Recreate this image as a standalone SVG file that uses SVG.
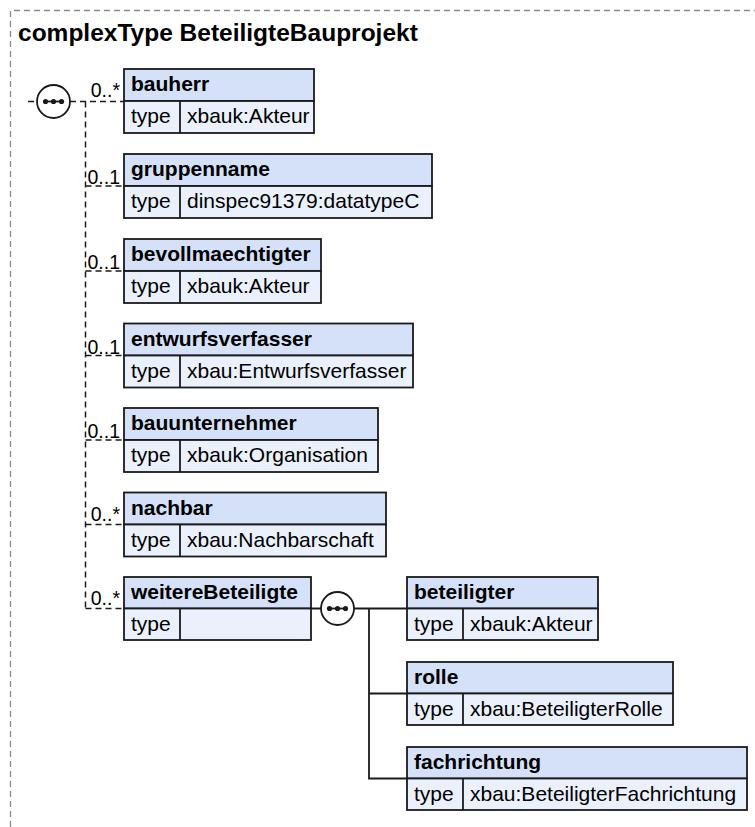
<svg xmlns="http://www.w3.org/2000/svg" width="755" height="827" viewBox="0 0 755 827">
<style>
.hd{fill:#d4e1f8;stroke:#1a1a1a;stroke-width:1.8}
.tr{fill:#eaf1fc;stroke:#1a1a1a;stroke-width:1.8}
.nm{font-family:"Liberation Sans",Arial,sans-serif;font-weight:bold;font-size:21px;fill:#000}
.tx{font-family:"Liberation Sans",Arial,sans-serif;font-size:21px;fill:#000}
.ml{font-family:"Liberation Sans",Arial,sans-serif;font-size:19.5px;fill:#000;text-anchor:end}
.dash{fill:none;stroke:#1a1a1a;stroke-width:1.5;stroke-dasharray:6,4}
.solid{fill:none;stroke:#1a1a1a;stroke-width:1.8}
.seq{fill:#fff;stroke:#1a1a1a;stroke-width:1.8}
</style>
<defs>
<g id="dots"><line x1="-8" y1="0" x2="8" y2="0" stroke="#1a1a1a" stroke-width="1.8"/><circle cx="-8" cy="0" r="2.6" fill="#1a1a1a"/><circle cx="0" cy="0" r="2.6" fill="#1a1a1a"/><circle cx="8" cy="0" r="2.6" fill="#1a1a1a"/></g>
</defs>
<path d="M10.5 827 V10.5 H755" fill="none" stroke="#8a8a8a" stroke-width="1.3" stroke-dasharray="6,4"/>
<text x="18" y="41" font-family="'Liberation Sans',Arial,sans-serif" font-weight="bold" font-size="24.5" fill="#000">complexType BeteiligteBauprojekt</text>
<g id="connectors">
<path class="dash" d="M28 101.5 H37 M70 101.5 H124 M85.5 101.5 V608.5 M85.5 186 H124 M85.5 271 H124 M85.5 355.5 H124 M85.5 440 H124 M85.5 524.5 H124 M85.5 608.5 H124"/>
<path class="solid" d="M311 608.5 H321 M354 608.5 H407 M369 608.5 V778.5 H407 M369 693.5 H407"/>
<text class="ml" x="120" y="97">0..*</text>
<text class="ml" x="120" y="184">0..1</text>
<text class="ml" x="120" y="269">0..1</text>
<text class="ml" x="120" y="353.5">0..1</text>
<text class="ml" x="120" y="438">0..1</text>
<text class="ml" x="120" y="520.5">0..*</text>
<text class="ml" x="120" y="604.5">0..*</text>
</g>
<g id="seq1"><circle class="seq" cx="53.5" cy="101.5" r="16.5"/><use href="#dots" x="53.5" y="101.5"/></g>
<g id="seq2"><circle class="seq" cx="337.5" cy="608.5" r="16.5"/><use href="#dots" x="337.5" y="608.5"/></g>
<g id="bauherr"><rect class="hd" x="124" y="69" width="190" height="32"/><rect class="tr" x="124" y="101" width="190" height="32"/><line class="solid" x1="180" y1="101" x2="180" y2="133"/><text class="nm" x="131" y="91">bauherr</text><text class="tx" x="131" y="123">type</text><text class="tx" x="187" y="123">xbauk:Akteur</text></g>
<g id="gruppenname"><rect class="hd" x="124" y="154" width="308" height="32"/><rect class="tr" x="124" y="186" width="308" height="32"/><line class="solid" x1="180" y1="186" x2="180" y2="218"/><text class="nm" x="131" y="176">gruppenname</text><text class="tx" x="131" y="208">type</text><text class="tx" x="187" y="208">dinspec91379:datatypeC</text></g>
<g id="bevollmaechtigter"><rect class="hd" x="124" y="239" width="197" height="32"/><rect class="tr" x="124" y="271" width="197" height="32"/><line class="solid" x1="180" y1="271" x2="180" y2="303"/><text class="nm" x="131" y="261">bevollmaechtigter</text><text class="tx" x="131" y="293">type</text><text class="tx" x="187" y="293">xbauk:Akteur</text></g>
<g id="entwurfsverfasser"><rect class="hd" x="124" y="323.5" width="289" height="32"/><rect class="tr" x="124" y="355.5" width="289" height="32"/><line class="solid" x1="180" y1="355.5" x2="180" y2="387.5"/><text class="nm" x="131" y="345.5">entwurfsverfasser</text><text class="tx" x="131" y="377.5">type</text><text class="tx" x="187" y="377.5">xbau:Entwurfsverfasser</text></g>
<g id="bauunternehmer"><rect class="hd" x="124" y="408" width="254" height="32"/><rect class="tr" x="124" y="440" width="254" height="32"/><line class="solid" x1="180" y1="440" x2="180" y2="472"/><text class="nm" x="131" y="430">bauunternehmer</text><text class="tx" x="131" y="462">type</text><text class="tx" x="187" y="462">xbauk:Organisation</text></g>
<g id="nachbar"><rect class="hd" x="124" y="492.5" width="262" height="32"/><rect class="tr" x="124" y="524.5" width="262" height="32"/><line class="solid" x1="180" y1="524.5" x2="180" y2="556.5"/><text class="nm" x="131" y="514.5">nachbar</text><text class="tx" x="131" y="546.5">type</text><text class="tx" x="187" y="546.5">xbau:Nachbarschaft</text></g>
<g id="weitereBeteiligte"><rect class="hd" x="124" y="577" width="187" height="31.5"/><rect class="tr" x="124" y="608.5" width="187" height="31.5"/><line class="solid" x1="180" y1="608.5" x2="180" y2="640"/><text class="nm" x="131" y="599">weitereBeteiligte</text><text class="tx" x="131" y="631">type</text></g>
<g id="beteiligter"><rect class="hd" x="407" y="577" width="191" height="31.5"/><rect class="tr" x="407" y="608.5" width="191" height="31.5"/><line class="solid" x1="463" y1="608.5" x2="463" y2="640"/><text class="nm" x="414" y="599">beteiligter</text><text class="tx" x="414" y="631">type</text><text class="tx" x="470" y="631">xbauk:Akteur</text></g>
<g id="rolle"><rect class="hd" x="407" y="662" width="266" height="31.5"/><rect class="tr" x="407" y="693.5" width="266" height="31.5"/><line class="solid" x1="463" y1="693.5" x2="463" y2="725"/><text class="nm" x="414" y="684">rolle</text><text class="tx" x="414" y="716">type</text><text class="tx" x="470" y="716">xbau:BeteiligterRolle</text></g>
<g id="fachrichtung"><rect class="hd" x="407" y="747" width="340" height="31.5"/><rect class="tr" x="407" y="778.5" width="340" height="31.5"/><line class="solid" x1="463" y1="778.5" x2="463" y2="810"/><text class="nm" x="414" y="769">fachrichtung</text><text class="tx" x="414" y="801">type</text><text class="tx" x="470" y="801">xbau:BeteiligterFachrichtung</text></g>
</svg>
